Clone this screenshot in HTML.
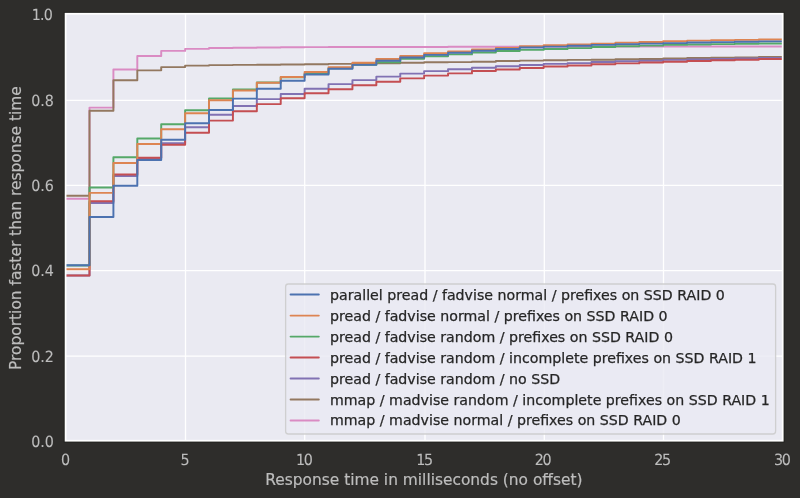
<!DOCTYPE html>
<html lang="en"><head><meta charset="utf-8"><title>Response time CDF</title>
<style>html,body{margin:0;padding:0;background:#2e2d2b;overflow:hidden}svg{display:block}text{font-family:"DejaVu Sans","Liberation Sans",sans-serif}.xt,.yt{text-rendering:geometricPrecision}</style></head><body>
<svg width="800" height="498" viewBox="0 0 800 498">
<rect x="0" y="0" width="800" height="498" fill="#2e2d2b"/>
<clipPath id="ax"><rect x="65.60" y="13.75" width="717.10" height="426.95"/></clipPath>
<rect x="65.60" y="13.75" width="717.10" height="426.95" fill="#eaeaf2"/>
<path d="M185.50 13.75V440.7M304.70 13.75V440.7M425.00 13.75V440.7M544.30 13.75V440.7M663.50 13.75V440.7M65.60 100.30H782.70M65.60 185.30H782.70M65.60 270.70H782.70M65.60 356.10H782.70" stroke="#ffffff" stroke-width="1.30" fill="none"/>
<g clip-path="url(#ax)" fill="none" stroke-width="1.95" stroke-linejoin="round" stroke-linecap="round">
<path d="M65.60 198.68H89.50V107.62H113.41V69.59H137.31V56.09H161.21V50.88H185.12V48.87H209.02V48.05H232.92V47.76H256.83V47.46H280.73V47.24H304.63V47.11H328.54V47.07H352.44V47.03H376.34V46.99H400.25V46.94H424.15V46.90H448.05V46.82H471.96V46.77H495.86V46.73H519.76V46.69H543.67V46.64H567.57V46.60H591.47V46.60H615.38V46.56H639.28V46.56H663.18V46.52H687.09V46.52H710.99V46.47H734.89V46.43H758.80V46.43H782.70" stroke="#da8bc3"/>
<path d="M65.60 195.82H89.50V110.65H113.41V80.23H137.31V70.36H161.21V67.11H185.12V65.62H209.02V65.10H232.92V64.89H256.83V64.68H280.73V64.51H304.63V64.29H328.54V63.87H352.44V63.48H376.34V63.27H400.25V62.80H424.15V62.28H448.05V62.11H471.96V61.69H495.86V61.09H519.76V60.62H543.67V60.32H567.57V59.89H591.47V59.72H615.38V59.21H639.28V58.91H663.18V58.40H687.09V58.01H710.99V57.71H734.89V57.41H758.80V56.90H782.70" stroke="#937860"/>
<path d="M65.60 275.51H89.50V202.91H113.41V175.90H137.31V158.13H161.21V143.26H185.12V127.32H209.02V114.80H232.92V105.91H256.83V99.12H280.73V93.90H304.63V88.65H328.54V84.12H352.44V80.10H376.34V76.64H400.25V73.61H424.15V71.13H448.05V69.21H471.96V67.67H495.86V66.30H519.76V65.02H543.67V63.87H567.57V63.14H591.47V61.98H615.38V61.22H639.28V60.70H663.18V59.89H687.09V59.42H710.99V58.91H734.89V58.40H758.80V57.93H782.70" stroke="#8172b3"/>
<path d="M65.60 275.51H89.50V201.28H113.41V174.58H137.31V157.83H161.21V144.67H185.12V132.66H209.02V120.61H232.92V111.21H256.83V104.12H280.73V98.31H304.63V93.18H328.54V89.20H352.44V85.32H376.34V81.68H400.25V78.35H424.15V75.62H448.05V73.39H471.96V71.00H495.86V69.51H519.76V68.01H543.67V66.51H567.57V65.49H591.47V64.21H615.38V63.39H639.28V62.50H663.18V61.69H687.09V61.00H710.99V60.19H734.89V59.72H758.80V58.91H782.70" stroke="#c44e52"/>
<path d="M65.60 265.55H89.50V187.48H113.41V157.32H137.31V138.56H161.21V124.33H185.12V110.27H209.02V98.52H232.92V89.59H256.83V82.50H280.73V77.15H304.63V73.61H328.54V68.31H352.44V64.76H376.34V62.28H400.25V58.87H424.15V56.26H448.05V54.38H471.96V52.58H495.86V51.09H519.76V49.89H543.67V49.08H567.57V48.10H591.47V46.90H615.38V46.30H639.28V45.62H663.18V44.89H687.09V44.42H710.99V44.12H734.89V43.82H758.80V43.40H782.70" stroke="#55a868"/>
<path d="M65.60 269.23H89.50V192.87H113.41V162.96H137.31V143.90H161.21V129.16H185.12V113.26H209.02V100.23H232.92V90.57H256.83V82.84H280.73V77.03H304.63V71.90H328.54V67.28H352.44V62.84H376.34V59.08H400.25V56.09H424.15V53.23H448.05V51.39H471.96V49.38H495.86V47.88H519.76V46.30H543.67V45.32H567.57V44.42H591.47V43.61H615.38V42.63H639.28V41.90H663.18V41.30H687.09V40.62H710.99V40.11H734.89V39.89H758.80V39.42H782.70" stroke="#dd8452"/>
<path d="M65.60 265.21H89.50V217.09H113.41V185.65H137.31V160.09H161.21V139.75H185.12V123.30H209.02V110.06H232.92V98.60H256.83V88.78H280.73V80.83H304.63V74.59H328.54V68.78H352.44V64.85H376.34V60.79H400.25V57.58H424.15V54.89H448.05V52.80H471.96V50.79H495.86V49.08H519.76V47.58H543.67V46.60H567.57V45.79H591.47V44.89H615.38V44.12H639.28V43.61H663.18V43.10H687.09V42.41H710.99V42.12H734.89V41.82H758.80V41.39H782.70" stroke="#4c72b0"/>
</g>
<rect x="64.20" y="12.35" width="719.90" height="429.75" fill="none" stroke="#1d1c1a" stroke-opacity="0.7" stroke-width="1"/>
<rect x="65.60" y="13.75" width="717.10" height="426.95" fill="none" stroke="#ffffff" stroke-width="1.75"/>
<rect x="285.60" y="284.00" width="490.00" height="150.00" rx="2.8" ry="2.8" fill="#eaeaf2" fill-opacity="0.8" stroke="#cccccc" stroke-opacity="0.9" stroke-width="1.3"/>
<path d="M290.6 294.50H318.8" stroke="#4c72b0" stroke-width="1.95" stroke-linecap="round" fill="none"/>
<text class="leg" x="330.0" y="299.55" font-size="14.18" fill="#262626" stroke="#262626" stroke-width="0.25">parallel pread / fadvise normal / prefixes on SSD RAID 0</text>
<path d="M290.6 315.60H318.8" stroke="#dd8452" stroke-width="1.95" stroke-linecap="round" fill="none"/>
<text class="leg" x="330.0" y="320.65" font-size="14.18" fill="#262626" stroke="#262626" stroke-width="0.25">pread / fadvise normal / prefixes on SSD RAID 0</text>
<path d="M290.6 336.60H318.8" stroke="#55a868" stroke-width="1.95" stroke-linecap="round" fill="none"/>
<text class="leg" x="330.0" y="341.65" font-size="14.18" fill="#262626" stroke="#262626" stroke-width="0.25">pread / fadvise random / prefixes on SSD RAID 0</text>
<path d="M290.6 357.50H318.8" stroke="#c44e52" stroke-width="1.95" stroke-linecap="round" fill="none"/>
<text class="leg" x="330.0" y="362.55" font-size="14.18" fill="#262626" stroke="#262626" stroke-width="0.25">pread / fadvise random / incomplete prefixes on SSD RAID 1</text>
<path d="M290.6 378.50H318.8" stroke="#8172b3" stroke-width="1.95" stroke-linecap="round" fill="none"/>
<text class="leg" x="330.0" y="383.55" font-size="14.18" fill="#262626" stroke="#262626" stroke-width="0.25">pread / fadvise random / no SSD</text>
<path d="M290.6 399.50H318.8" stroke="#937860" stroke-width="1.95" stroke-linecap="round" fill="none"/>
<text class="leg" x="330.0" y="404.55" font-size="14.18" fill="#262626" stroke="#262626" stroke-width="0.25">mmap / madvise random / incomplete prefixes on SSD RAID 1</text>
<path d="M290.6 420.40H318.8" stroke="#da8bc3" stroke-width="1.95" stroke-linecap="round" fill="none"/>
<text class="leg" x="330.0" y="425.45" font-size="14.18" fill="#262626" stroke="#262626" stroke-width="0.25">mmap / madvise normal / prefixes on SSD RAID 0</text>
<text class="xt" transform="translate(65.60 465.2) scale(1 1.080)" font-size="14.30" fill="#bcbcbc" stroke="#bcbcbc" stroke-width="0.10" text-anchor="middle">0</text>
<text class="xt" transform="translate(185.12 465.2) scale(1 1.080)" font-size="14.30" fill="#bcbcbc" stroke="#bcbcbc" stroke-width="0.10" text-anchor="middle">5</text>
<text class="xt" transform="translate(303.83 465.2) scale(1 1.080)" font-size="14.30" fill="#bcbcbc" stroke="#bcbcbc" stroke-width="0.10" text-anchor="middle" letter-spacing="-1.3">10</text>
<text class="xt" transform="translate(423.95 465.2) scale(1 1.080)" font-size="14.30" fill="#bcbcbc" stroke="#bcbcbc" stroke-width="0.10" text-anchor="middle" letter-spacing="-1.3">15</text>
<text class="xt" transform="translate(542.47 465.2) scale(1 1.080)" font-size="14.30" fill="#bcbcbc" stroke="#bcbcbc" stroke-width="0.10" text-anchor="middle" letter-spacing="-1.3">20</text>
<text class="xt" transform="translate(661.98 465.2) scale(1 1.080)" font-size="14.30" fill="#bcbcbc" stroke="#bcbcbc" stroke-width="0.10" text-anchor="middle" letter-spacing="-1.3">25</text>
<text class="xt" transform="translate(781.80 465.2) scale(1 1.080)" font-size="14.30" fill="#bcbcbc" stroke="#bcbcbc" stroke-width="0.10" text-anchor="middle" letter-spacing="-1.3">30</text>
<text class="yt" transform="translate(53.65 447.05) scale(1 1.080)" font-size="14.30" fill="#bcbcbc" stroke="#bcbcbc" stroke-width="0.10" text-anchor="end" letter-spacing="-0.15">0.0</text>
<text class="yt" transform="translate(53.65 362.20) scale(1 1.080)" font-size="14.30" fill="#bcbcbc" stroke="#bcbcbc" stroke-width="0.10" text-anchor="end" letter-spacing="-0.15">0.2</text>
<text class="yt" transform="translate(53.65 275.60) scale(1 1.080)" font-size="14.30" fill="#bcbcbc" stroke="#bcbcbc" stroke-width="0.10" text-anchor="end" letter-spacing="-0.15">0.4</text>
<text class="yt" transform="translate(53.65 191.20) scale(1 1.080)" font-size="14.30" fill="#bcbcbc" stroke="#bcbcbc" stroke-width="0.10" text-anchor="end" letter-spacing="-0.15">0.6</text>
<text class="yt" transform="translate(53.65 105.80) scale(1 1.080)" font-size="14.30" fill="#bcbcbc" stroke="#bcbcbc" stroke-width="0.10" text-anchor="end" letter-spacing="-0.15">0.8</text>
<text class="yt" transform="translate(51.95 20.00) scale(1 1.080)" font-size="14.30" fill="#bcbcbc" stroke="#bcbcbc" stroke-width="0.10" text-anchor="end" letter-spacing="-0.85">1.0</text>
<text id="xl" x="423.9" y="485.4" font-size="15.42" fill="#bdbdbd" stroke="#bdbdbd" stroke-width="0.2" text-anchor="middle">Response time in milliseconds (no offset)</text>
<text id="yl" transform="translate(21.3 228.1) rotate(-90)" font-size="15.42" fill="#bdbdbd" stroke="#bdbdbd" stroke-width="0.2" text-anchor="middle">Proportion faster than response time</text>
</svg></body></html>
